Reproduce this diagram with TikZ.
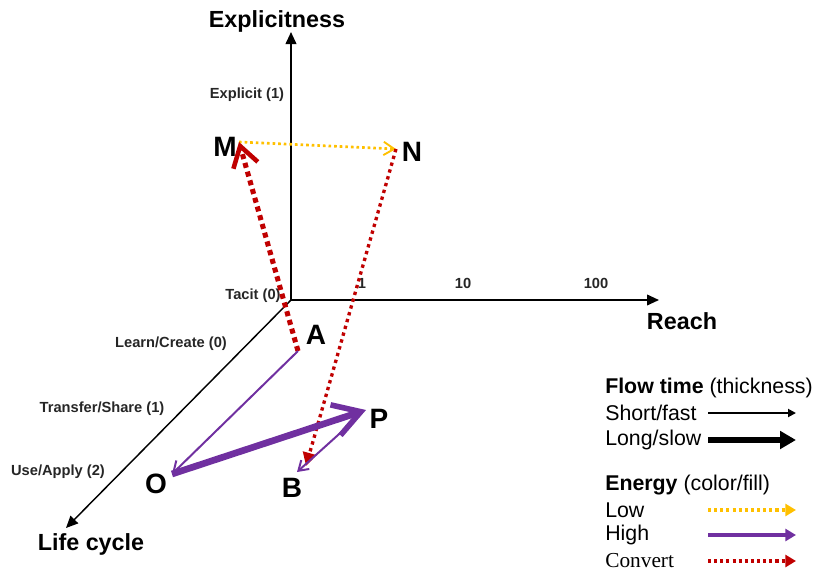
\documentclass[tikz,border=0pt]{standalone}
\usepackage{fontspec}
\setmainfont{Liberation Sans}
\newfontfamily\serifx{Liberation Serif}
\usetikzlibrary{arrows.meta}
\definecolor{kred}{HTML}{C00000}
\definecolor{kpurple}{HTML}{7030A0}
\definecolor{kyellow}{HTML}{FFC000}
\tikzset{
  axis/.style={line width=1.3pt, -{Triangle[length=9pt,width=8pt]}},
  axlabel/.style={font=\bfseries\fontsize{17.5}{20}\selectfont, inner sep=0pt},
  tick/.style={font=\bfseries\fontsize{11}{13}\selectfont, inner sep=0pt, text=black!85},
  pt/.style={font=\bfseries\fontsize{21}{24}\selectfont, inner sep=0pt},
  lowflow/.style={draw=kyellow, line width=2pt, dash pattern=on 2pt off 2.2pt},
  convthick/.style={draw=kred, line width=3.8pt, dash pattern=on 3.8pt off 3pt},
  conv/.style={draw=kred, line width=2.5pt, dash pattern=on 2.5pt off 2.8pt},
  highthin/.style={draw=kpurple, line width=1.5pt},
  highthick/.style={draw=kpurple, line width=5pt},
  leg/.style={font=\fontsize{16}{19}\selectfont, inner sep=0pt, anchor=west},
}
\begin{document}
\begin{tikzpicture}[x=0.75pt,y=-0.75pt]
\useasboundingbox (0,0) rectangle (817,571);
% axes
\coordinate (o) at (291,300);
\coordinate (ytop) at (291,32);
\coordinate (xend) at (659,300);
\coordinate (zend) at (66,528);
\draw[axis] (o) -- (ytop);
\draw[axis] (o) -- (xend);
\draw[axis, line width=1.1pt] (o) -- (zend);
% axis labels
\node[axlabel] (lexp) at (277,21) {Explicitness};
\node[axlabel] (lreach) at (682,321) {Reach};
\node[axlabel] (llife) at (91,544) {Life cycle};
\node[tick] (texp) at (247,95) {Explicit (1)};
\node[tick] (ttac) at (253,296) {Tacit (0)};
\node[tick] (t1) at (362,283) {1};
\node[tick] (t10) at (463,283) {10};
\node[tick] (t100) at (596,283) {100};
\node[tick] (tlc) at (171,344) {Learn/Create (0)};
\node[tick] (tts) at (102,409) {Transfer/Share (1)};
\node[tick] (tua) at (58,472) {Use/Apply (2)};
% points
\node[pt] (M) at (225,147) {M};
\node[pt] (N) at (412,152) {N};
\node[pt] (A) at (316,335) {A};
\node[pt] (O) at (156,484) {O};
\node[pt] (B) at (292,488) {B};
\node[pt] (P) at (379,419) {P};
\coordinate (cM) at (239,142);
\coordinate (cN) at (396,149);
\coordinate (cA) at (298,351);
\coordinate (cO) at (172,474);
\coordinate (cP) at (366,410);
\coordinate (cP2) at (358,417);
\coordinate (cB1) at (306,466);
\coordinate (cB2) at (297,472);
% flows
\draw[lowflow, -{Straight Barb[length=8pt,width=10pt,line width=1.4pt]}] (cM) -- (cN);
\draw[convthick, -{Straight Barb[length=15pt,width=19pt,line width=3.4pt]}] (cA) -- (cM);
\draw[conv, -{Triangle[length=10pt,width=10pt]}] (cN) -- (cB1);
\draw[highthin, -{Straight Barb[length=8pt,width=10pt,line width=1.5pt]}] (cA) -- (cO);
\draw[highthick, -{Straight Barb[length=20pt,width=24pt,line width=4.2pt]}] (cO) -- (cP);
\draw[highthin, -{Straight Barb[length=7pt,width=9pt,line width=1.5pt]}] (cP2) -- (cB2);
% legend
\node[leg] (lft) at (605,388) {\textbf{Flow time} (thickness)};
\node[leg] (lsf) at (605,413) {Short/fast};
\node[leg] (lls) at (605,440) {Long/slow};
\node[leg] (len) at (605,485) {\textbf{Energy} (color/fill)};
\node[leg] (llo) at (605,510) {Low};
\node[leg] (lhi) at (605,535) {High};
\node[leg, font=\serifx\fontsize{16}{19}\selectfont] (lco) at (605,561) {Convert};
\coordinate (a1s) at (708,413); \coordinate (a1e) at (796,413);
\coordinate (a2s) at (708,440); \coordinate (a2e) at (796,440);
\coordinate (a3s) at (708,510); \coordinate (a3e) at (796,510);
\coordinate (a4s) at (708,535); \coordinate (a4e) at (796,535);
\coordinate (a5s) at (708,561); \coordinate (a5e) at (796,561);
\draw[line width=1.4pt, -{Triangle[length=6pt,width=6pt]}] (a1s) -- (a1e);
\draw[line width=4pt, -{Triangle[length=12pt,width=13pt]}] (a2s) -- (a2e);
\draw[lowflow, line width=2.3pt, dash pattern=on 2.3pt off 2.3pt, -{Triangle[length=8pt,width=9pt]}] (a3s) -- (a3e);
\draw[highthin, line width=2.3pt, -{Triangle[length=8pt,width=9pt]}] (a4s) -- (a4e);
\draw[conv, line width=2.3pt, dash pattern=on 2.3pt off 2.3pt, -{Triangle[length=8pt,width=9pt]}] (a5s) -- (a5e);
\end{tikzpicture}
\end{document}
